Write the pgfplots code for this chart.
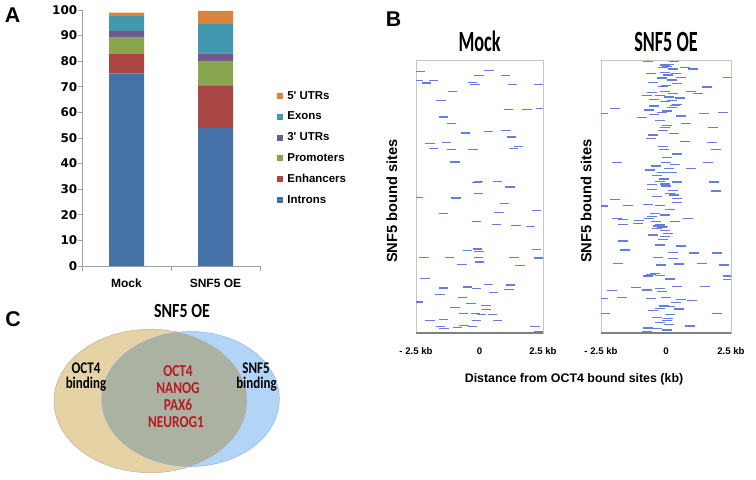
\documentclass[border=0pt]{standalone}
\usepackage{fontspec}
\setmainfont{Liberation Sans}
\newfontfamily\dvsfont{DejaVu Sans}
\newfontfamily\calfont{Carlito}[FakeStretch=0.8]
\newfontfamily\caltfont{Carlito}[FakeStretch=0.62]
\usepackage{pgfplots}
\usepackage{pgfplotstable}
\pgfplotsset{compat=1.18}
\definecolor{cIntr}{RGB}{69,114,167}
\definecolor{cEnh}{RGB}{170,70,67}
\definecolor{cProm}{RGB}{137,165,78}
\definecolor{cUTRt}{RGB}{113,88,143}
\definecolor{cEx}{RGB}{65,152,175}
\definecolor{cUTRf}{RGB}{219,132,61}
\definecolor{hdash}{RGB}{100,125,225}
\definecolor{vtan}{RGB}{229,211,166}
\definecolor{vblue}{RGB}{178,212,246}
\definecolor{vovl}{RGB}{171,178,162}
\definecolor{vred}{RGB}{185,25,35}
\definecolor{axgray}{RGB}{160,160,160}

% Mock: each dash = left end, right end (position across the +-2.5 kb window, row)
\pgfplotstableread[row sep=\\]{
x y\\
18 35\\ 46 35\\ nan nan\\
223 32\\ 251 32\\ nan nan\\
193 47\\ 221 47\\ nan nan\\
273 47\\ 301 47\\ nan nan\\
11 61\\ 39 61\\ nan nan\\
56 61\\ 84 61\\ nan nan\\
36 69\\ 64 69\\ nan nan\\
173 67\\ 201 67\\ nan nan\\
181 74\\ 209 74\\ nan nan\\
293 74\\ 321 74\\ nan nan\\
373 74\\ 401 74\\ nan nan\\
113 94\\ 141 94\\ nan nan\\
79 122\\ 107 122\\ nan nan\\
281 149\\ 309 149\\ nan nan\\
337 149\\ 365 149\\ nan nan\\
378 146\\ 406 146\\ nan nan\\
86 171\\ 114 171\\ nan nan\\
111 190\\ 139 190\\ nan nan\\
153 219\\ 181 219\\ nan nan\\
221 214\\ 249 214\\ nan nan\\
274 212\\ 302 212\\ nan nan\\
291 231\\ 319 231\\ nan nan\\
46 250\\ 74 250\\ nan nan\\
96 247\\ 124 247\\ nan nan\\
311 260\\ 339 260\\ nan nan\\
296 265\\ 324 265\\ nan nan\\
56 266\\ 84 266\\ nan nan\\
111 269\\ 139 269\\ nan nan\\
175 268\\ 203 268\\ nan nan\\
121 306\\ 149 306\\ nan nan\\
191 364\\ 219 364\\ nan nan\\
187 368\\ 215 368\\ nan nan\\
249 364\\ 277 364\\ nan nan\\
286 381\\ 314 381\\ nan nan\\
192 401\\ 220 401\\ nan nan\\
11 413\\ 39 413\\ nan nan\\
124 414\\ 152 414\\ nan nan\\
269 431\\ 297 431\\ nan nan\\
86 461\\ 114 461\\ nan nan\\
253 457\\ 281 457\\ nan nan\\
366 452\\ 394 452\\ nan nan\\
186 484\\ 214 484\\ nan nan\\
245 494\\ 273 494\\ nan nan\\
304 496\\ 332 496\\ nan nan\\
348 499\\ 376 499\\ nan nan\\
158 572\\ 186 572\\ nan nan\\
189 567\\ 217 567\\ nan nan\\
193 574\\ 221 574\\ nan nan\\
366 568\\ 394 568\\ nan nan\\
28 593\\ 56 593\\ nan nan\\
104 593\\ 132 593\\ nan nan\\
191 593\\ 219 593\\ nan nan\\
298 593\\ 326 593\\ nan nan\\
371 594\\ 399 594\\ nan nan\\
142 614\\ 170 614\\ nan nan\\
194 606\\ 222 606\\ nan nan\\
316 616\\ 344 616\\ nan nan\\
31 655\\ 59 655\\ nan nan\\
86 684\\ 114 684\\ nan nan\\
158 681\\ 186 681\\ nan nan\\
186 686\\ 214 686\\ nan nan\\
221 673\\ 249 673\\ nan nan\\
288 675\\ 316 675\\ nan nan\\
283 688\\ 311 688\\ nan nan\\
76 704\\ 104 704\\ nan nan\\
236 698\\ 264 698\\ nan nan\\
143 713\\ 171 713\\ nan nan\\
11 726\\ 39 726\\ nan nan\\
169 731\\ 197 731\\ nan nan\\
214 737\\ 242 737\\ nan nan\\
121 743\\ 149 743\\ nan nan\\
215 749\\ 243 749\\ nan nan\\
146 760\\ 174 760\\ nan nan\\
182 761\\ 210 761\\ nan nan\\
200 763\\ 228 763\\ nan nan\\
233 763\\ 261 763\\ nan nan\\
46 781\\ 74 781\\ nan nan\\
87 779\\ 115 779\\ nan nan\\
185 782\\ 213 782\\ nan nan\\
248 782\\ 276 782\\ nan nan\\
78 800\\ 106 800\\ nan nan\\
129 803\\ 157 803\\ nan nan\\
148 797\\ 176 797\\ nan nan\\
174 799\\ 202 799\\ nan nan\\
88 806\\ 116 806\\ nan nan\\
361 800\\ 389 800\\ nan nan\\
373 815\\ 401 815\\ nan nan\\
}\mockdata

% SNF5 OE: each dash = left end, right end, row
\pgfplotstableread[row sep=\\]{
x y\\
160 5\\ 190 5\\ nan nan\\
238 5\\ 268 5\\ nan nan\\
210 15\\ 240 15\\ nan nan\\
217 20\\ 247 20\\ nan nan\\
205 22\\ 235 22\\ nan nan\\
223 14\\ 253 14\\ nan nan\\
233 27\\ 263 27\\ nan nan\\
295 27\\ 325 27\\ nan nan\\
270 23\\ 300 23\\ nan nan\\
168 40\\ 198 40\\ nan nan\\
210 38\\ 240 38\\ nan nan\\
243 40\\ 273 40\\ nan nan\\
218 45\\ 248 45\\ nan nan\\
400 52\\ 430 52\\ nan nan\\
200 54\\ 230 54\\ nan nan\\
258 53\\ 288 53\\ nan nan\\
230 60\\ 260 60\\ nan nan\\
175 67\\ 205 67\\ nan nan\\
247 70\\ 277 70\\ nan nan\\
213 76\\ 243 76\\ nan nan\\
205 80\\ 235 80\\ nan nan\\
335 81\\ 365 81\\ nan nan\\
288 94\\ 318 94\\ nan nan\\
211 94\\ 241 94\\ nan nan\\
170 98\\ 200 98\\ nan nan\\
235 100\\ 265 100\\ nan nan\\
310 101\\ 340 101\\ nan nan\\
155 106\\ 185 106\\ nan nan\\
195 106\\ 225 106\\ nan nan\\
223 111\\ 253 111\\ nan nan\\
178 118\\ 208 118\\ nan nan\\
255 114\\ 285 114\\ nan nan\\
230 122\\ 260 122\\ nan nan\\
210 125\\ 240 125\\ nan nan\\
247 133\\ 277 133\\ nan nan\\
178 138\\ 208 138\\ nan nan\\
241 137\\ 271 137\\ nan nan\\
232 143\\ 262 143\\ nan nan\\
60 146\\ 90 146\\ nan nan\\
163 150\\ 193 150\\ nan nan\\
215 153\\ 245 153\\ nan nan\\
200 157\\ 230 157\\ nan nan\\
177 163\\ 207 163\\ nan nan\\
25 160\\ 55 160\\ nan nan\\
328 160\\ 358 160\\ nan nan\\
383 157\\ 413 157\\ nan nan\\
257 168\\ 287 168\\ nan nan\\
142 173\\ 172 173\\ nan nan\\
195 181\\ 225 181\\ nan nan\\
215 197\\ 245 197\\ nan nan\\
273 190\\ 303 190\\ nan nan\\
210 203\\ 240 203\\ nan nan\\
355 203\\ 385 203\\ nan nan\\
203 212\\ 233 212\\ nan nan\\
238 220\\ 268 220\\ nan nan\\
173 225\\ 203 225\\ nan nan\\
167 236\\ 197 236\\ nan nan\\
270 245\\ 300 245\\ nan nan\\
350 247\\ 380 247\\ nan nan\\
205 259\\ 235 259\\ nan nan\\
207 268\\ 237 268\\ nan nan\\
363 269\\ 393 269\\ nan nan\\
245 282\\ 275 282\\ nan nan\\
215 293\\ 245 293\\ nan nan\\
65 307\\ 95 307\\ nan nan\\
213 308\\ 243 308\\ nan nan\\
340 308\\ 370 308\\ nan nan\\
241 313\\ 271 313\\ nan nan\\
183 318\\ 213 318\\ nan nan\\
165 330\\ 195 330\\ nan nan\\
223 325\\ 253 325\\ nan nan\\
287 325\\ 317 325\\ nan nan\\
202 337\\ 232 337\\ nan nan\\
230 338\\ 260 338\\ nan nan\\
187 347\\ 217 347\\ nan nan\\
208 357\\ 238 357\\ nan nan\\
195 364\\ 225 364\\ nan nan\\
170 374\\ 200 374\\ nan nan\\
247 366\\ 277 366\\ nan nan\\
357 366\\ 387 366\\ nan nan\\
210 372\\ 240 372\\ nan nan\\
213 378\\ 243 378\\ nan nan\\
170 388\\ 200 388\\ nan nan\\
235 392\\ 265 392\\ nan nan\\
363 393\\ 393 393\\ nan nan\\
225 400\\ 255 400\\ nan nan\\
237 405\\ 267 405\\ nan nan\\
185 410\\ 215 410\\ nan nan\\
245 415\\ 275 415\\ nan nan\\
60 419\\ 90 419\\ nan nan\\
160 434\\ 190 434\\ nan nan\\
195 437\\ 225 437\\ nan nan\\
100 437\\ 130 437\\ nan nan\\
247 427\\ 277 427\\ nan nan\\
225 448\\ 255 448\\ nan nan\\
23 438\\ 53 438\\ nan nan\\
210 465\\ 240 465\\ nan nan\\
180 460\\ 210 460\\ nan nan\\
170 470\\ 200 470\\ nan nan\\
163 475\\ 193 475\\ nan nan\\
67 476\\ 97 476\\ nan nan\\
85 478\\ 115 478\\ nan nan\\
132 481\\ 162 481\\ nan nan\\
278 476\\ 308 476\\ nan nan\\
183 485\\ 213 485\\ nan nan\\
240 485\\ 270 485\\ nan nan\\
195 495\\ 225 495\\ nan nan\\
190 498\\ 220 498\\ nan nan\\
205 500\\ 235 500\\ nan nan\\
200 503\\ 230 503\\ nan nan\\
210 512\\ 240 512\\ nan nan\\
185 505\\ 215 505\\ nan nan\\
128 490\\ 158 490\\ nan nan\\
85 493\\ 115 493\\ nan nan\\
220 520\\ 250 520\\ nan nan\\
175 525\\ 205 525\\ nan nan\\
210 530\\ 240 530\\ nan nan\\
205 538\\ 235 538\\ nan nan\\
83 543\\ 113 543\\ nan nan\\
257 558\\ 287 558\\ nan nan\\
195 555\\ 225 555\\ nan nan\\
90 570\\ 120 570\\ nan nan\\
235 578\\ 265 578\\ nan nan\\
297 579\\ 327 579\\ nan nan\\
365 579\\ 395 579\\ nan nan\\
188 593\\ 218 593\\ nan nan\\
235 595\\ 265 595\\ nan nan\\
68 610\\ 98 610\\ nan nan\\
198 615\\ 228 615\\ nan nan\\
253 612\\ 283 612\\ nan nan\\
322 611\\ 352 611\\ nan nan\\
387 615\\ 417 615\\ nan nan\\
181 640\\ 211 640\\ nan nan\\
167 643\\ 197 643\\ nan nan\\
195 647\\ 225 647\\ nan nan\\
160 648\\ 190 648\\ nan nan\\
225 657\\ 255 657\\ nan nan\\
400 648\\ 430 648\\ nan nan\\
247 680\\ 277 680\\ nan nan\\
330 680\\ 360 680\\ nan nan\\
400 659\\ 430 659\\ nan nan\\
123 683\\ 153 683\\ nan nan\\
195 686\\ 225 686\\ nan nan\\
155 690\\ 185 690\\ nan nan\\
51 692\\ 81 692\\ nan nan\\
200 694\\ 230 694\\ nan nan\\
168 715\\ 198 715\\ nan nan\\
80 713\\ 110 713\\ nan nan\\
213 712\\ 243 712\\ nan nan\\
257 718\\ 287 718\\ nan nan\\
290 721\\ 320 721\\ nan nan\\
243 727\\ 273 727\\ nan nan\\
25 716\\ 55 716\\ nan nan\\
208 738\\ 238 738\\ nan nan\\
225 740\\ 255 740\\ nan nan\\
195 745\\ 225 745\\ nan nan\\
253 747\\ 283 747\\ nan nan\\
175 752\\ 205 752\\ nan nan\\
30 760\\ 60 760\\ nan nan\\
365 760\\ 395 760\\ nan nan\\
225 764\\ 255 764\\ nan nan\\
185 773\\ 215 773\\ nan nan\\
218 776\\ 248 776\\ nan nan\\
215 781\\ 245 781\\ nan nan\\
195 788\\ 225 788\\ nan nan\\
223 793\\ 253 793\\ nan nan\\
285 798\\ 315 798\\ nan nan\\
160 804\\ 190 804\\ nan nan\\
185 806\\ 215 806\\ nan nan\\
215 810\\ 245 810\\ nan nan\\
155 815\\ 185 815\\ nan nan\\
207 824\\ 237 824\\ nan nan\\
43 822\\ 73 822\\ nan nan\\
390 822\\ 420 822\\ nan nan\\
}\oedata

\pgfplotsset{
  heatdash/.style={draw=hdash, line width=1.05pt, mark=none, unbounded coords=jump},
}

\begin{document}
\begin{tikzpicture}
\path[use as bounding box] (0pt,0pt) rectangle (567pt,359.25pt);

% ---------------- Panel A ----------------
\begin{axis}[
  at={(61.5pt,159.75pt)}, anchor=south west,
  scale only axis, width=133.5pt, height=192pt,
  ybar stacked, bar width=26.25pt,
  xmin=-0.5, xmax=1.5, ymin=0, ymax=100,
  axis x line=bottom, axis y line=left,
  axis line style={draw=axgray, line width=0.6pt, -},
  xtick={0,1}, xticklabels={Mock,SNF5 OE},
  xtick style={draw=none},
  extra x ticks={-0.5,0.5,1.5}, extra x tick labels={},
  extra x tick style={xtick style={draw=axgray, line width=0.6pt}, major tick length=3.5pt},
  ytick={0,10,...,100},
  ytick style={draw=axgray, line width=0.6pt},
  tick align=outside, major tick length=3pt,
  yticklabel style={font=\dvsfont\bfseries\fontsize{9}{10}\selectfont, /pgf/number format/assume math mode=true, xshift=3pt},
  xticklabel style={font=\bfseries\fontsize{9}{11}\selectfont, yshift=-3pt},
  reverse legend,
  legend cell align=left,
  legend image code/.code={\fill[#1] (0pt,-2.25pt) rectangle (4.5pt,2.25pt);},
  legend style={draw=none, fill=none, at={(axis description cs:1.096,0.686)}, anchor=north west,
    font=\bfseries\fontsize{8.6}{10}\selectfont, row sep=7.6pt, inner xsep=0pt, inner ysep=0pt,
    nodes={inner sep=0pt, text height=6.3pt, text depth=1.7pt},
    /tikz/every odd column/.append style={column sep=3pt}},
]
\addplot[fill=cIntr, draw=none] coordinates {(0,75.2) (1,54.0)};
\addlegendentry{Introns}
\addplot[fill=cEnh, draw=none] coordinates {(0,7.6) (1,16.6)};
\addlegendentry{Enhancers}
\addplot[fill=cProm, draw=none] coordinates {(0,6.7) (1,9.5)};
\addlegendentry{Promoters}
\addplot[fill=cUTRt, draw=none] coordinates {(0,2.3) (1,3.0)};
\addlegendentry{3\textquotesingle{} UTRs}
\addplot[fill=cEx, draw=none] coordinates {(0,5.8) (1,11.4)};
\addlegendentry{Exons}
\addplot[fill=cUTRf, draw=none] coordinates {(0,1.4) (1,5.2)};
\addlegendentry{5\textquotesingle{} UTRs}
\node[font=\bfseries\fontsize{6.8}{8}\selectfont] at (axis cs:0,86.8) {6.7\%};
\node[font=\bfseries\fontsize{6.8}{8}\selectfont] at (axis cs:0,78.7) {7.6\%};
\node[font=\bfseries\fontsize{6.8}{8}\selectfont] at (axis cs:1,75.5) {9.5\%};
\node[font=\bfseries\fontsize{6.8}{8}\selectfont] at (axis cs:1,61.5) {16.6\%};
\end{axis}

% ---------------- Panel B: Mock ----------------
\begin{axis}[
  at={(312pt,109.5pt)}, anchor=south west,
  scale only axis, width=95.25pt, height=204.75pt,
  xmin=18, xmax=399, ymin=0, ymax=819, y dir=reverse,
  axis line style={draw=gray!45, line width=0.6pt},
  ytick=\empty, xtick={18,208.5,399}, xticklabels={- 2.5 kb,0,2.5 kb},
  major tick length=0pt,
  xticklabel style={font=\bfseries\fontsize{7.2}{8}\selectfont, yshift=-7.3pt},
  title={Mock},
  title style={font=\caltfont\bfseries\fontsize{22}{24}\selectfont, at={(axis description cs:0.5,1)}, anchor=base, yshift=0.3pt},
  ylabel={SNF5 bound sites},
  ylabel style={font=\bfseries\fontsize{11}{12}\selectfont, at={(axis description cs:-0.189,0.4835)}, anchor=center},
]
\addplot[heatdash] table[x=x,y=y] {\mockdata};
\draw[gray, line width=1.5pt] (axis description cs:0,0) -- (axis description cs:1,0);
\end{axis}

% ---------------- Panel B: SNF5 OE ----------------
\begin{axis}[
  at={(450.75pt,109.5pt)}, anchor=south west,
  scale only axis, width=97.5pt, height=204.75pt,
  xmin=33, xmax=423, ymin=0, ymax=819, y dir=reverse,
  axis line style={draw=gray!45, line width=0.6pt},
  ytick=\empty, xtick={33,228,423}, xticklabels={- 2.5 kb,0,2.5 kb},
  major tick length=0pt,
  xticklabel style={font=\bfseries\fontsize{7.2}{8}\selectfont, yshift=-7.3pt},
  title={SNF5 OE},
  title style={font=\caltfont\bfseries\fontsize{22}{24}\selectfont, at={(axis description cs:0.5,1)}, anchor=base, yshift=0.3pt},
  ylabel={SNF5 bound sites},
  ylabel style={font=\bfseries\fontsize{11}{12}\selectfont, at={(axis description cs:-0.115,0.4835)}, anchor=center},
]
\addplot[heatdash] table[x=x,y=y] {\oedata};
\draw[gray, line width=1.5pt] (axis description cs:0,0) -- (axis description cs:1,0);
\end{axis}

% ---------------- Overlay: panel C and labels ----------------
\begin{axis}[
  at={(0pt,0pt)}, anchor=south west,
  scale only axis, width=567pt, height=359.25pt,
  xmin=0, xmax=756, ymin=0, ymax=479, y dir=reverse,
  hide axis, clip=false,
]
\fill[vtan, draw=vtan!85!black, line width=0.4pt] (axis cs:150.5,401) ellipse [x radius=96.5, y radius=71.7];
\fill[vblue, draw=vblue!85!blue, line width=0.4pt] (axis cs:190.5,399) ellipse [x radius=88.8, y radius=67.5];
\begin{scope}
\clip (axis cs:150.5,401) ellipse [x radius=96.5, y radius=71.7];
\fill[vovl] (axis cs:190.5,399) ellipse [x radius=88.8, y radius=67.5];
\end{scope}
\node[font=\bfseries\fontsize{16}{18}\selectfont] at (axis cs:12.5,15.5) {A};
\node[font=\bfseries\fontsize{16}{18}\selectfont] at (axis cs:393.5,19.5) {B};
\node[font=\bfseries\fontsize{16}{18}\selectfont] at (axis cs:13,319.5) {C};
\node[font=\calfont\bfseries\fontsize{15}{16}\selectfont] at (axis cs:182,311.5) {SNF5 OE};
\node[font=\calfont\bfseries\fontsize{12.2}{14}\selectfont, inner sep=0pt] at (axis cs:86,368) {OCT4};
\node[font=\calfont\bfseries\fontsize{12.2}{14}\selectfont, inner sep=0pt] at (axis cs:86,383.8) {binding};
\node[font=\calfont\bfseries\fontsize{12.2}{14}\selectfont, inner sep=0pt] at (axis cs:256,368) {SNF5};
\node[font=\calfont\bfseries\fontsize{12.2}{14}\selectfont, inner sep=0pt] at (axis cs:256.5,383.8) {binding};
\node[font=\calfont\bfseries\fontsize{12.5}{14}\selectfont, inner sep=0pt, text=vred] at (axis cs:178,371) {OCT4};
\node[font=\calfont\bfseries\fontsize{12.5}{14}\selectfont, inner sep=0pt, text=vred] at (axis cs:178,388.3) {NANOG};
\node[font=\calfont\bfseries\fontsize{12.5}{14}\selectfont, inner sep=0pt, text=vred] at (axis cs:178,405) {PAX6};
\node[font=\calfont\bfseries\fontsize{12.5}{14}\selectfont, inner sep=0pt, text=vred] at (axis cs:176,421.7) {NEUROG1};
\node[font=\bfseries\fontsize{9.3}{11}\selectfont] at (axis cs:574,379) {Distance from OCT4 bound sites (kb)};
\end{axis}
\end{tikzpicture}
\end{document}
